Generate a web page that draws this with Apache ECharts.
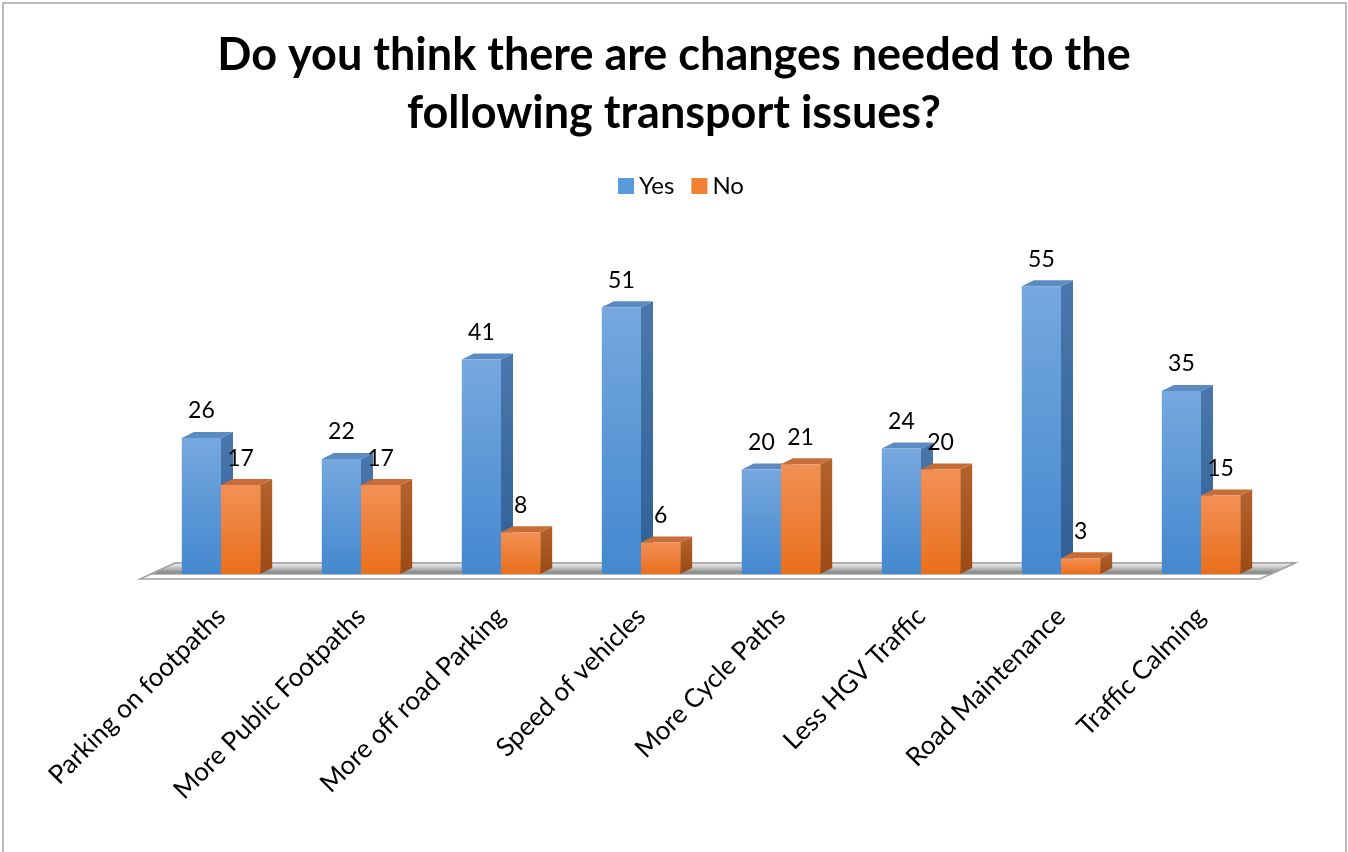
<!DOCTYPE html>
<html>
<head>
<meta charset="utf-8">
<script src="https://cdn.jsdelivr.net/npm/echarts@6/dist/echarts.min.js"></script>
<style>html,body{margin:0;padding:0;background:#fff;}#c{width:1348px;height:852px;}</style>
</head>
<body>
<div id="c"></div>
<script>
const categories = ['Parking on footpaths','More Public Footpaths','More off road Parking','Speed of vehicles','More Cycle Paths','Less HGV Traffic','Road Maintenance','Traffic Calming'];
const yesValues = [26, 22, 41, 51, 20, 24, 55, 35];
const noValues = [17, 17, 8, 6, 21, 20, 3, 15];
const seriesNames = ['Yes', 'No'];

const FONT = 'Lato, "Open Sans", sans-serif';
const chart = echarts.init(document.getElementById('c'), null, {renderer: 'canvas'});
const G = echarts.graphic;

function makeBar(offsetIdx, pal) {
  return function (params, api) {
    const cat = api.value(0), val = api.value(1);
    const top = api.coord([cat, val]);
    const base = api.coord([cat, 0]);
    const band = api.size([1, 0])[0];
    const w = band * 0.28;
    const x0 = top[0] + offsetIdx * w, x1 = x0 + w;
    const yT = top[1], yB = base[1];
    const dx = 12, dy = -6;
    return {
      type: 'group',
      children: [
        {type: 'polygon', shape: {points: [[x1, yT], [x1 + dx, yT + dy], [x1 + dx, yB + dy], [x1, yB]]},
          style: {fill: new G.LinearGradient(0, 0, 0, 1, [{offset: 0, color: pal.side0}, {offset: 1, color: pal.side1}])}},
        {type: 'polygon', shape: {points: [[x0, yT], [x0 + dx, yT + dy], [x1 + dx, yT + dy], [x1, yT]]},
          style: {fill: pal.top}},
        {type: 'rect', shape: {x: x0, y: yT, width: w, height: yB - yT},
          style: {fill: new G.LinearGradient(0, 0, 0, 1, [{offset: 0, color: pal.front0}, {offset: 1, color: pal.front1}])}},
        {type: 'text', style: {text: String(val), x: x0 + w / 2, y: yT - 27, align: 'center', verticalAlign: 'middle',
          fontSize: 23, fill: '#000', fontFamily: FONT}}
      ]
    };
  };
}

const bluePal = {front0: '#76a8de', front1: '#4388cf', side0: '#4a78ad', side1: '#2f5f95', top: '#5b8bc3'};
const orangePal = {front0: '#f39055', front1: '#e96f1c', side0: '#b5622c', side1: '#9a4a12', top: '#c86d38'};

function renderFloor(params, api) {
  const cs = params.coordSys;
  const y0 = api.coord([0, 0])[1];
  const xl = cs.x, xr = cs.x + cs.width;
  return {
    type: 'group',
    children: [
      {type: 'polygon', shape: {points: [[xl + 24, y0 - 11], [xr + 24, y0 - 11], [xr - 11, y0 + 5], [xl - 11, y0 + 5]]},
        style: {fill: '#ffffff', stroke: '#a3a3a3', lineWidth: 1.5}},
      {type: 'polygon', shape: {points: [[xl + 24, y0 - 11], [xr + 24, y0 - 11], [xr, y0], [xl, y0]]},
        style: {fill: new G.LinearGradient(0, 0, 0, 1, [{offset: 0, color: '#f6f6f6'}, {offset: 0.35, color: '#d0d0d0'}, {offset: 1, color: '#6e6e6e'}]), stroke: '#a3a3a3', lineWidth: 1.5}}
    ]
  };
}

const option = {
  backgroundColor: '#ffffff',
  animation: false,
  title: {
    text: 'Do you think there are changes needed to the\nfollowing transport issues?',
    left: 'center', top: 21,
    textStyle: {fontSize: 45, fontWeight: 'bold', color: '#000', lineHeight: 58, fontFamily: FONT}
  },
  legend: {
    data: seriesNames, left: 613, top: 169, itemWidth: 16, itemHeight: 16, itemGap: 17, icon: 'rect',
    textStyle: {fontSize: 24, color: '#000', fontFamily: FONT}
  },
  grid: {left: 151, right: 77, top: 260.2, bottom: 278, containLabel: false},
  xAxis: {
    type: 'category', data: categories,
    axisLine: {show: false}, axisTick: {show: false}, splitLine: {show: false},
    axisLabel: {interval: 0, rotate: 45, margin: 38, fontSize: 26, color: '#000', fontFamily: FONT}
  },
  yAxis: {type: 'value', min: 0, max: 60, show: false, splitLine: {show: false}},
  graphic: [{
    type: 'rect', shape: {x: 3, y: 3, width: 1343, height: 900}, style: {fill: 'none', stroke: '#a6a6a6', lineWidth: 1.5}, silent: true, z: 100
  }],
  series: [
    {type: 'custom', name: 'floor', z: 1, renderItem: renderFloor, data: [[0, 0]], silent: true, clip: false},
    {type: 'custom', name: seriesNames[0], z: 2, renderItem: makeBar(-1, bluePal), itemStyle: {color: '#5a9bdc'},
      data: yesValues.map((v, i) => [i, v]), clip: false},
    {type: 'custom', name: seriesNames[1], z: 3, renderItem: makeBar(0, orangePal), itemStyle: {color: '#f28032'},
      data: noValues.map((v, i) => [i, v]), clip: false}
  ]
};
chart.setOption(option);
</script>
</body>
</html>
